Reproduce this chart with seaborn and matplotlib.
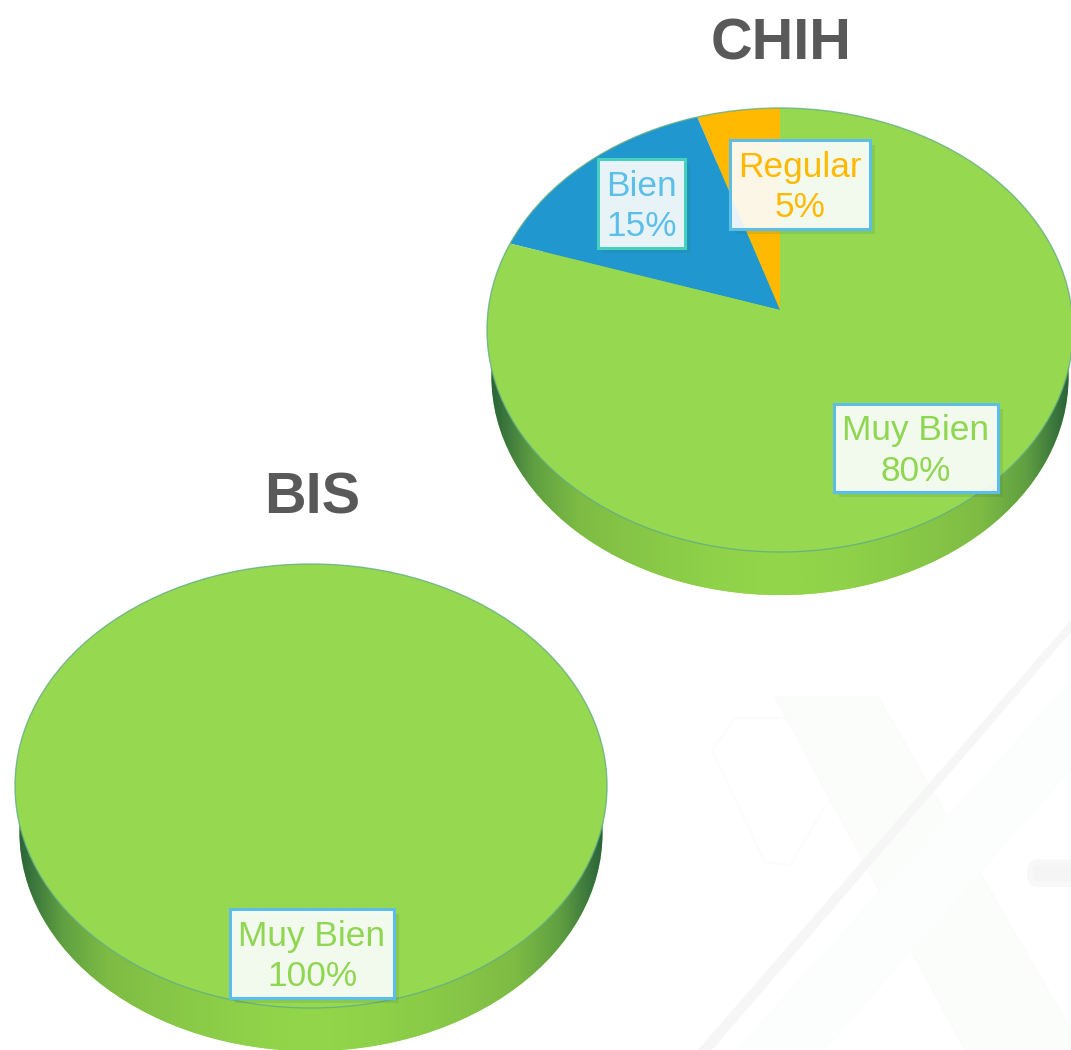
'''Two tilted pies: CHIH and BIS'''
import numpy as np
import seaborn as sns
import matplotlib.pyplot as plt
from matplotlib.patches import Ellipse, Polygon, Rectangle, FancyBboxPatch

# chart values
chih_labels = ["Regular", "Bien", "Muy Bien"]
chih_values = [5, 15, 80]
bis_labels = ["Muy Bien"]
bis_values = [100]

GREEN, BLUE, ORANGE = "#96d951", "#2098cf", "#ffb900"
TEXT_COLORS = {"Muy Bien": "#8fd651", "Bien": "#5cbfe9", "Regular": "#ffb900"}

W, H = 1071, 1050

sns.set_theme(style="white")
plt.rcParams["font.family"] = ["Liberation Sans", "DejaVu Sans"]

fig = plt.figure(figsize=(W / 100, H / 100), dpi=100, facecolor="white")

# faint watermark behind the pies
back = fig.add_axes([0, 0, 1, 1], xlim=(0, W), ylim=(H, 0))
back.axis("off")
back.add_patch(Polygon([(775, 697), (878, 697), (1071, 1030), (1071, 1050),
                        (965, 1050)], fc="#fbfdfb", ec="#fafbfa", lw=1))
back.add_patch(Polygon([(1071, 680), (1071, 770), (825, 1050), (735, 1050)],
                       fc="#fcfdfd", ec="none"))
back.add_patch(Polygon([(1071, 620), (1071, 632), (712, 1050), (698, 1050)],
                       fc="#f6f6f6", ec="none"))
back.add_patch(FancyBboxPatch((1030, 862), 60, 22, boxstyle="round,pad=0,rounding_size=8",
                              fc="#f5f5f5", ec="#f8f8f8", lw=4))
back.add_patch(Polygon([(735, 718), (785, 718), (835, 790), (790, 865), (765, 862),
                        (712, 750)], fc="none", ec="#fcfcfc", lw=1.5))

side_cmap = sns.blend_palette(["#255e3a", "#5f9f41", "#7dbb44", "#85c446", "#8acb47", "#8fd149",
                               "#92d54a", "#92d54a", "#8fd149", "#8acb47", "#85c446",
                               "#7dbb44", "#5f9f41", "#255e3a"], as_cmap=True)


def tilted_pie(values, colors, cx, cy, rx=293, ry=222, apex=0.0):
    # axes spans the whole figure, one data unit = the pie radius in pixels
    ax = fig.add_axes([0, 0, 1, 1], facecolor="none")

    # side of the disc
    side, _ = ax.pie([1], colors=[GREEN], radius=0.985, center=(0, -0.209),
                     wedgeprops={"linewidth": 0})
    im = ax.imshow(np.linspace(0, 1, 256)[None, :], extent=(-1, 1, -1.3, 0.8),
                   cmap=side_cmap, aspect="auto", zorder=2)
    im.set_clip_path(side[0])

    # top face: wedges meet at the apex and are cut by the ellipse
    face = Ellipse((0, 0), 2, 2, transform=ax.transData)
    wedges, _ = ax.pie(values, colors=colors, startangle=90, radius=2.4,
                       center=(0, apex), wedgeprops={"linewidth": 0})
    for w in wedges:
        w.set_zorder(3)
        w.set_clip_on(True)
        w.set_clip_path(face)
    ax.add_patch(Ellipse((0, 0), 2, 2, fc="none", ec="#62ad85", lw=1.0, alpha=0.8, zorder=4))

    ax.set_aspect("auto")
    ax.set_xlim((0 - cx) / rx, (W - cx) / rx)
    ax.set_ylim((cy - H) / ry, cy / ry)
    ax.axis("off")


tilted_pie(chih_values, [ORANGE, BLUE, GREEN], 780, 330, apex=0.09)
tilted_pie(bis_values, [GREEN], 311, 786, rx=296)

# titles and label boxes, placed in image pixels
top = fig.add_axes([0, 0, 1, 1], xlim=(0, W), ylim=(H, 0), facecolor="none")
top.axis("off")
top.text(781, 44, "CHIH", ha="center", va="center", fontsize=41.5, fontweight="bold",
         color="#595959")
top.text(312, 498, "BIS", ha="center", va="center", fontsize=41.5, fontweight="bold",
         color="#595959")


def label_box(name, value, x0, y0, x1, y1, edge="#5cbde8"):
    top.add_patch(Rectangle((x0 + 5, y0 + 5), x1 - x0, y1 - y0, fc="#2f6f4f", ec="none", alpha=0.14))
    top.add_patch(Rectangle((x0, y0), x1 - x0, y1 - y0, fc="white", ec="none", alpha=0.9))
    top.add_patch(Rectangle((x0, y0), x1 - x0, y1 - y0, fc="none", ec=edge, lw=2.2))
    top.text((x0 + x1) / 2, (y0 + y1) / 2 + 3, f"{name}\n{value}%", ha="center", va="center",
             fontsize=25.4, linespacing=1.27, color=TEXT_COLORS[name])


label_box(chih_labels[1], chih_values[1], 598, 159, 685, 248, edge="#47d0bd")
label_box(chih_labels[0], chih_values[0], 730, 140, 870, 229)
label_box(chih_labels[2], chih_values[2], 834, 404, 998, 492)
label_box(bis_labels[0], bis_values[0], 230, 909, 394, 998)

fig.savefig("out.png", dpi=100)
